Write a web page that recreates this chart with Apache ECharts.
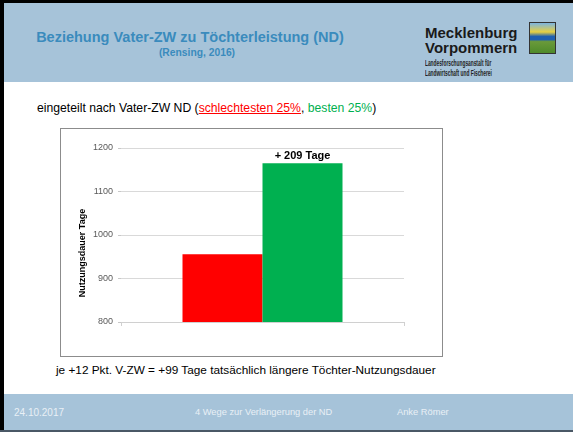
<!DOCTYPE html>
<html lang="de">
<head>
<meta charset="UTF-8">
<title>Beziehung Vater-ZW zu Töchterleistung (ND)</title>
<script src="https://cdn.jsdelivr.net/npm/echarts@6/dist/echarts.min.js"></script>
<style>
  body { margin: 0; width: 573px; height: 432px; position: relative; overflow: hidden; background: #fff;
         font-family: "Liberation Sans", Arial, sans-serif; }
  .abs { position: absolute; white-space: nowrap; }
  #frameTop { left: 0; top: 0; width: 573px; height: 3px; background: #000; }
  #frameLeft { left: 0; top: 0; width: 4px; height: 432px; background: #000; }
  #head { left: 4px; top: 3px; width: 569px; height: 79px; background: #a6c3d9; }
  #title { left: 0; width: 380px; top: 29px; text-align: center; color: #3a8bbd; font-weight: bold; font-size: 14.5px; }
  #sub { left: 0; width: 394px; top: 47px; text-align: center; color: #3a8bbd; font-weight: bold; font-size: 10.3px; }
  .logo1 { left: 425px; font-weight: bold; font-size: 15px; color: #1a1a1a; }
  .logo2 { left: 425px; font-weight: bold; font-size: 8.6px; color: #222; transform: scaleX(0.56); transform-origin: left center; }
  #logoImg { left: 529px; top: 22px; width: 25px; height: 30px; border: 1px solid #333;
             background: linear-gradient(to bottom, #7cb4e0 0%, #e8d040 30%, #1f5fb0 45%, #1f5fb0 55%, #6a9a3a 62%, #4e8a2a 100%); }
  #intro { left: 37px; top: 101px; font-size: 12.2px; color: #000; }
  #note { left: 56px; top: 363px; font-size: 11.8px; color: #000; }
  #foot { left: 4px; top: 394px; width: 569px; height: 36px; background: #a6c3d9; }
  #footLine { left: 0; top: 430px; width: 573px; height: 2px; background: #4a5866; }
  .ft { top: 407px; font-size: 9.3px; color: #e9f0f6; }
  #chartBox { left: 60px; top: 128px; width: 381px; height: 227px; border: 1px solid #8c8c8c; }
</style>
</head>
<body>
<div id="frameTop" class="abs"></div>
<div id="head" class="abs"></div>
<div id="frameLeft" class="abs"></div>
<div id="title" class="abs">Beziehung Vater-ZW zu Töchterleistung (ND)</div>
<div id="sub" class="abs">(Rensing, 2016)</div>
<div class="abs logo1" style="top:24px">Mecklenburg</div>
<div class="abs logo1" style="top:39px">Vorpommern</div>
<div class="abs logo2" style="top:58px">Landesforschungsanstalt für</div>
<div class="abs logo2" style="top:68px">Landwirtschaft und Fischerei</div>
<div id="logoImg" class="abs"></div>

<div id="intro" class="abs">eingeteilt nach Vater-ZW ND (<span style="color:#ff0000;text-decoration:underline">schlechtesten 25%</span>, <span style="color:#00b050">besten 25%</span>)</div>

<div id="chartBox" class="abs"></div>

<div id="note" class="abs">je +12 Pkt. V-ZW = +99 Tage tatsächlich längere Töchter-Nutzungsdauer</div>

<div id="foot" class="abs"></div>
<div id="footLine" class="abs"></div>
<div class="abs ft" style="left:14px;font-size:10px">24.10.2017</div>
<div class="abs ft" style="left:195px">4 Wege zur Verlängerung der ND</div>
<div class="abs ft" style="left:397px">Anke Römer</div>

<script type="text/javascript">
  // Daten
  var gruppen = ['schlechtesten 25%', 'besten 25%'];
  var nutzungsdauer = [956, 1165];
  var farben = ['#ff0000', '#00b050'];
  var yTicks = [800, 900, 1000, 1100, 1200];

  var myChart = echarts.init(document.getElementById('chartBox'));
  var diff = nutzungsdauer[1] - nutzungsdauer[0];

  var series = [];
  for (var i = 0; i < gruppen.length; i++) {
    series.push({
      name: gruppen[i],
      type: 'bar',
      data: [nutzungsdauer[i]],
      barWidth: 80,
      barGap: '0%',
      itemStyle: { color: farben[i] },
      label: i === 1 ? {
        show: true,
        position: 'top',
        distance: 2,
        formatter: '+ ' + diff + ' Tage',
        color: '#000',
        fontWeight: 'bold',
        fontSize: 11,
        fontFamily: 'Liberation Sans'
      } : { show: false }
    });
  }

  var option = {
    animation: false,
    grid: { left: 60, right: 38, top: 19, bottom: 34 },
    xAxis: {
      type: 'category',
      data: [''],
      axisLine: { lineStyle: { color: '#d0d0d0' } },
      axisTick: { show: true, length: 4, lineStyle: { color: '#d0d0d0' } },
      axisLabel: { show: false }
    },
    yAxis: {
      type: 'value',
      min: yTicks[0],
      max: yTicks[yTicks.length - 1],
      interval: yTicks[1] - yTicks[0],
      axisLine: { show: false },
      axisTick: { show: true, length: 3, lineStyle: { color: '#c8c8c8' } },
      splitLine: { lineStyle: { color: '#d9d9d9' } },
      axisLabel: {
        color: '#595959', fontSize: 9, fontFamily: 'Liberation Sans', margin: 8,
        formatter: function (v) { return String(v); }
      }
    },
    graphic: [{
      type: 'text',
      x: 22,
      y: 124,
      rotation: Math.PI / 2,
      style: {
        text: 'Nutzungsdauer Tage',
        fill: '#000',
        font: 'bold 9px "Liberation Sans"',
        align: 'center',
        verticalAlign: 'middle'
      }
    }],
    series: series
  };
  myChart.setOption(option);
</script>
</body>
</html>
